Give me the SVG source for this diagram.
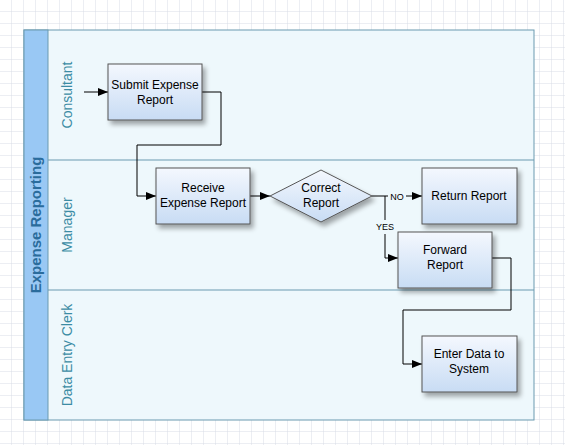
<svg xmlns="http://www.w3.org/2000/svg" width="565" height="445" viewBox="0 0 565 445">
<defs>
<pattern id="grid" width="12" height="12" patternUnits="userSpaceOnUse"><path d="M12 0V12H0" fill="none" stroke="#d8dde6" stroke-width="1"/></pattern>
<linearGradient id="g" x1="0" y1="0" x2="0" y2="1"><stop offset="0" stop-color="#f4f8fe"/><stop offset="1" stop-color="#c8dcf4"/></linearGradient>
<filter id="sh" x="-20%" y="-20%" width="150%" height="160%"><feGaussianBlur in="SourceAlpha" stdDeviation="2.5"/><feOffset dx="3" dy="4"/><feComponentTransfer><feFuncA type="linear" slope="0.35"/></feComponentTransfer><feMerge><feMergeNode/><feMergeNode in="SourceGraphic"/></feMerge></filter>
<marker id="a" markerWidth="10" markerHeight="8" refX="10" refY="4" orient="auto" markerUnits="userSpaceOnUse"><path d="M0 0L10 4L0 8z" fill="#000"/></marker>
</defs>
<style>
.n{fill:url(#g);stroke:#555;stroke-width:1;filter:url(#sh)}
.t{font-family:"Liberation Sans",Arial,sans-serif;font-size:12px;fill:#000;text-anchor:middle}
.l{font-family:"Liberation Sans",Arial,sans-serif;font-size:14px;fill:#3c8ca4;text-anchor:middle}
.c{fill:none;stroke:#000;stroke-width:1}
.s{font-family:"Liberation Sans",Arial,sans-serif;font-size:9px;fill:#000;text-anchor:middle}
</style>
<rect width="565" height="445" fill="#fff"/>
<rect width="565" height="445" fill="url(#grid)"/>
<g id="pool">
<rect x="24" y="30" width="510" height="390" fill="#eef8fc" stroke="#6a9ab0"/>
<rect x="24" y="30" width="24" height="390" fill="#99c8f4" stroke="#6a9ab0"/>
<line x1="48" y1="160" x2="534" y2="160" stroke="#6a9ab0"/>
<line x1="48" y1="290" x2="534" y2="290" stroke="#6a9ab0"/>
<text transform="translate(41,225) rotate(-90)" font-family="Liberation Sans,Arial,sans-serif" font-size="15" font-weight="bold" fill="#2a6c9c" text-anchor="middle">Expense Reporting</text>
<text class="l" transform="translate(72,95) rotate(-90)">Consultant</text>
<text class="l" transform="translate(72,225) rotate(-90)">Manager</text>
<text class="l" transform="translate(72,355) rotate(-90)">Data Entry Clerk</text>
</g>
<g id="connectors">
<path class="c" d="M84 92H108" marker-end="url(#a)"/>
<path class="c" d="M202 92H221V145H137V196H156" marker-end="url(#a)"/>
<path class="c" d="M250 196H270" marker-end="url(#a)"/>
<path class="c" d="M372 196H388M406 196H422" marker-end="url(#a)"/>
<path class="c" d="M385 196V220M385 234V258H398" marker-end="url(#a)"/>
<path class="c" d="M492 258H511V310H403V364H422" marker-end="url(#a)"/>
<text class="s" x="397" y="200">NO</text>
<text class="s" x="385" y="230">YES</text>
</g>
<g id="submit"><rect class="n" x="108" y="64" width="94" height="56"/><text class="t" x="155" y="89">Submit Expense</text><text class="t" x="155" y="104">Report</text></g>
<g id="receive"><rect class="n" x="156" y="168" width="94" height="56"/><text class="t" x="203" y="192">Receive</text><text class="t" x="203" y="207">Expense Report</text></g>
<g id="correct"><path class="n" d="M270 196L321 170L372 196L321 222Z"/><text class="t" x="321" y="192">Correct</text><text class="t" x="321" y="207">Report</text></g>
<g id="return"><rect class="n" x="422" y="168" width="95" height="56"/><text class="t" x="469" y="200">Return Report</text></g>
<g id="forward"><rect class="n" x="398" y="232" width="94" height="56"/><text class="t" x="445" y="254">Forward</text><text class="t" x="445" y="269">Report</text></g>
<g id="enter"><rect class="n" x="422" y="336" width="95" height="56"/><text class="t" x="469" y="358">Enter Data to</text><text class="t" x="469" y="373">System</text></g>
</svg>
